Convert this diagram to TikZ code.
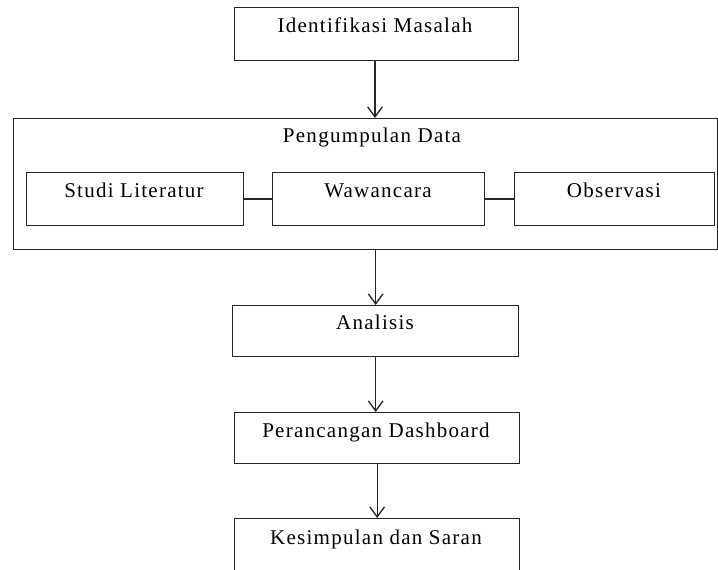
\documentclass[tikz,border=0pt]{standalone}
\usepackage{fontspec}
\setmainfont{Liberation Serif}[LetterSpace=6]
\usetikzlibrary{arrows.meta}
\begin{document}
\begin{tikzpicture}[x=0.75pt,y=-0.75pt,
  box/.style={draw=black!85, line width=1pt, inner sep=0pt, anchor=north west},
  lbl/.style={anchor=base, inner sep=0pt, font=\fontsize{15.75}{18}\selectfont},
  arr/.style={-{Straight Barb[length=7.5pt,width=11pt]}, line width=1pt, draw=black!85},
  link/.style={line width=1pt, draw=black!85}]
\clip (0,0) rectangle (718,570);
% boxes
\node[box, minimum width=213pt, minimum height=39.75pt] (ident) at (234,7) {};
\node[box, minimum width=528pt, minimum height=98.25pt] (data) at (13,118) {};
\node[box, minimum width=162.75pt, minimum height=39.75pt] (studi) at (26,172) {};
\node[box, minimum width=159pt, minimum height=39.75pt] (waw) at (272,172) {};
\node[box, minimum width=150pt, minimum height=39.75pt] (obs) at (514,172) {};
\node[box, minimum width=214.5pt, minimum height=38.25pt] (ana) at (232,305) {};
\node[box, minimum width=213.75pt, minimum height=38.25pt] (per) at (234,412) {};
\node[box, minimum width=213.75pt, minimum height=46.5pt] (kes) at (234,518) {};
% labels
\node[lbl] (tident) at (375,33) {Identifikasi Masalah};
\node[lbl] (tdata) at (372,143) {Pengumpulan Data};
\node[lbl] (tstudi) at (134,198) {Studi Literatur};
\node[lbl] (twaw) at (378,198) {Wawancara};
\node[lbl] (tobs) at (614,198) {Observasi};
\node[lbl] (tana) at (375,330) {Analisis};
\node[lbl] (tper) at (376,437) {Perancangan Dashboard};
\node[lbl] (tkes) at (376,544) {Kesimpulan dan Saran};
% connectors
\coordinate (a1s) at (375,60);
\draw[arr] (a1s) -- (a1s |- data.north);
\draw[arr] (ana.north |- data.south) -- (ana.north);
\draw[arr] (ana.south) -- (ana.south |- per.north);
\draw[arr] (per.south) -- (per.south |- kes.north);
\draw[link] (studi.east) -- (waw.west);
\draw[link] (waw.east) -- (obs.west);
\end{tikzpicture}
\end{document}
